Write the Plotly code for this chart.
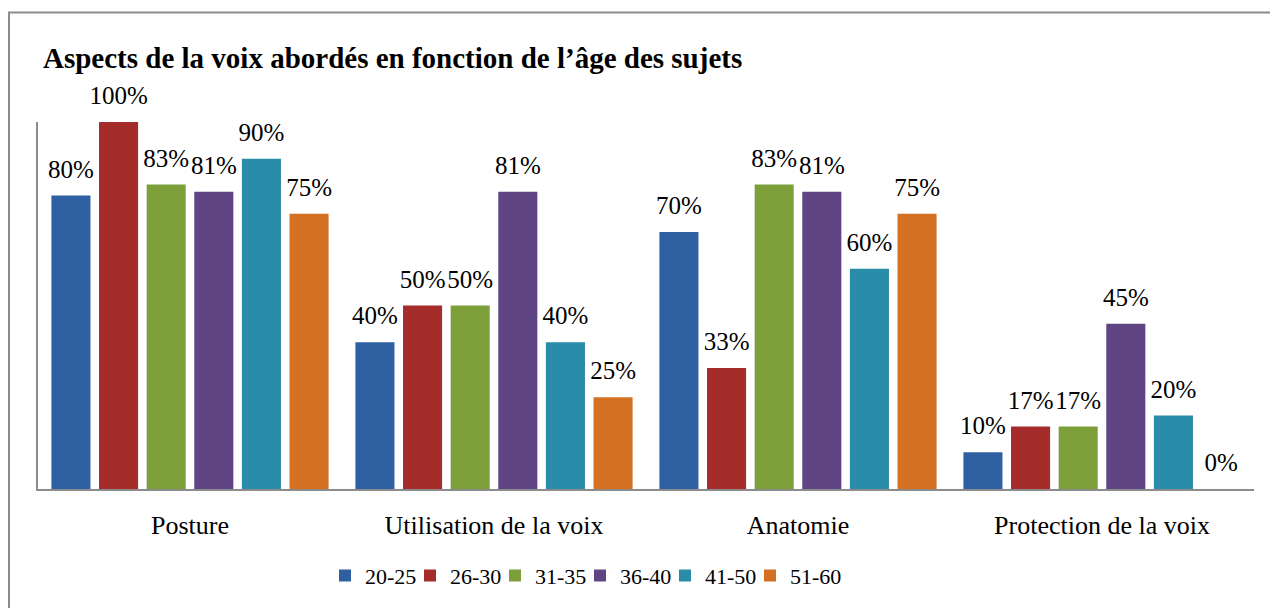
import plotly.graph_objects as go

# Categories and per-age-group percentages
categories = ["Posture", "Utilisation de la voix", "Anatomie", "Protection de la voix"]
age_groups = ["20-25", "26-30", "31-35", "36-40", "41-50", "51-60"]
values_20_25 = [80, 40, 70, 10]
values_26_30 = [100, 50, 33, 17]
values_31_35 = [83, 50, 83, 17]
values_36_40 = [81, 81, 81, 45]
values_41_50 = [90, 40, 60, 20]
values_51_60 = [75, 25, 75, 0]
series = [values_20_25, values_26_30, values_31_35, values_36_40, values_41_50, values_51_60]

colors = ["#2f61a2", "#a42d2b", "#7c9f3a", "#5f4483", "#298ca8", "#d47021"]

W, H = 1270, 608
ML, MR, MT, MB = 38, 16, 122, 117
PW = W - ML - MR
GAP = 0.06

FONT = "Liberation Serif"

# One single-entry legend per age group so the entries can be spaced evenly
LEGEND_LEFT = 335   # px, left edge of the first legend box
LEGEND_STEP = 85    # px between consecutive entries
legend_ids = ["legend"] + [f"legend{i}" for i in range(2, len(age_groups) + 1)]

fig = go.Figure()
for name, vals, col, lid in zip(age_groups, series, colors, legend_ids):
    fig.add_trace(go.Bar(
        name=name,
        x=categories,
        y=[v / 100 for v in vals],
        marker=dict(color=col, line=dict(width=0)),
        cliponaxis=False,
        legend=lid,
    ))

# Value labels, grouped the same way as the bars so each sits over its bar;
# an invisible marker gives the labels some clearance above the bar tops
for name, vals in zip(age_groups, series):
    fig.add_trace(go.Scatter(
        x=categories,
        y=[v / 100 for v in vals],
        mode="markers+text",
        text=[f"{v}%" for v in vals],
        textposition="top center",
        marker=dict(size=17, color="rgba(0,0,0,0)"),
        textfont=dict(family=FONT, size=25, color="#000000"),
        cliponaxis=False,
        showlegend=False,
        hoverinfo="skip",
    ))

legend_layout = {}
for i, lid in enumerate(legend_ids):
    legend_layout[lid] = dict(
        orientation="h",
        x=(LEGEND_LEFT + i * LEGEND_STEP - ML) / PW, xanchor="left",
        y=-0.236, yanchor="middle",
        font=dict(family=FONT, size=22, color="#000000"),
        itemwidth=30,
        indentation=-10,
        bgcolor="rgba(0,0,0,0)",
    )

fig.update_layout(
    width=W, height=H,
    margin=dict(l=ML, r=MR, t=MT, b=MB),
    paper_bgcolor="white",
    plot_bgcolor="white",
    barmode="group",
    bargap=GAP,
    bargroupgap=0.18,
    scattermode="group",
    scattergap=GAP,
    font=dict(family=FONT, color="#000000"),
    title=dict(
        text="<b>Aspects de la voix abordés en fonction de l’âge des sujets</b>",
        font=dict(family=FONT, size=29, color="#000000"),
        x=43 / W, xanchor="left", xref="container",
        y=1 - 58 / H, yanchor="middle", yref="container",
    ),
    xaxis=dict(
        showgrid=False,
        showline=True, linecolor="#8c8c8c", linewidth=2,
        ticks="", ticklabelstandoff=12,
        tickfont=dict(family=FONT, size=26, color="#000000"),
    ),
    yaxis=dict(
        range=[0, 1],
        showgrid=False, showticklabels=False, zeroline=False,
        showline=True, linecolor="#8c8c8c", linewidth=2,
        ticks="",
    ),
    showlegend=True,
    **legend_layout,
)

# Outer chart frame (left and top edges visible in the page)
fig.add_shape(
    type="rect", xref="paper", yref="paper",
    x0=(9 - ML) / PW, x1=(W + 20 - ML) / PW,
    y0=-(H + 20 - (H - MB)) / (H - MT - MB), y1=1 + (MT - 12) / (H - MT - MB),
    line=dict(color="#8c8c8c", width=2),
    fillcolor="rgba(0,0,0,0)",
    layer="below",
)

fig.write_html("out.html")
